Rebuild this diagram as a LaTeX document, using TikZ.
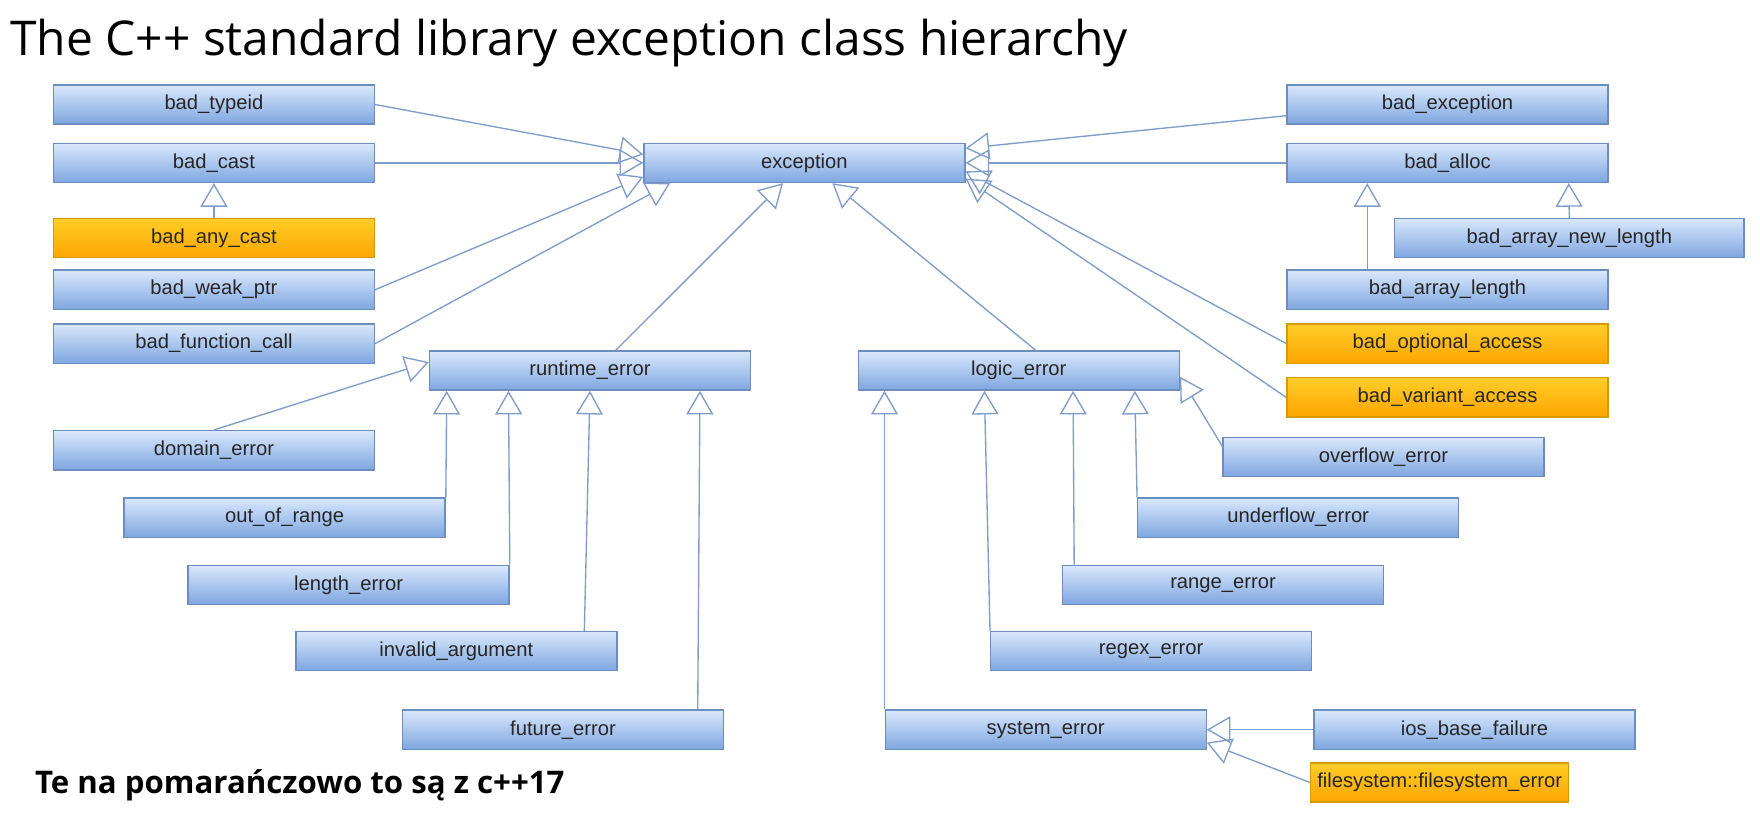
\documentclass[tikz,border=0pt]{standalone}
\usepackage{fontspec}
\setmainfont{Liberation Sans}
\newfontfamily\titlefont{Open Sans}
\usetikzlibrary{arrows.meta}
\definecolor{blueT}{HTML}{DAE8FC}
\definecolor{blueB}{HTML}{7EA6E0}
\definecolor{blueLine}{HTML}{6C8EBF}
\definecolor{orangeT}{HTML}{FFCD28}
\definecolor{orangeB}{HTML}{FFA500}
\definecolor{orangeLine}{HTML}{D79B00}
\definecolor{edgeCol}{HTML}{7F9CCB}
\definecolor{labelCol}{HTML}{262626}
\begin{document}
\begin{tikzpicture}[x=1pt,y=-1pt,
  cls/.style={draw=blueLine, top color=blueT, bottom color=blueB, line width=1.2pt,
    minimum height=35pt, minimum width=286pt, inner sep=0pt, anchor=north west,
    font=\fontsize{18}{21}\selectfont, text=labelCol},
  newcls/.style={cls, draw=orangeLine, top color=orangeT, bottom color=orangeB},
  inh/.style={draw=edgeCol, line width=1.2pt, -{Triangle[open, length=21pt, width=24pt]}}]
\useasboundingbox[fill=white] (0,0) rectangle (1568,726);

% title and note
\node[anchor=base west, inner sep=0pt, font=\titlefont\fontsize{42.7}{48}\selectfont] (title) at (9,49) {The C++ standard library exception class hierarchy};
\node[anchor=base west, inner sep=0pt, font=\titlefont\bfseries\fontsize{27.8}{32}\selectfont] (note) at (31,707) {Te na pomarańczowo to są z c++17};

% left column
\node[cls] (typeid) at (47,75) {bad\_typeid};
\node[cls] (cast) at (47,127) {bad\_cast};
\node[newcls] (anycast) at (47,194) {bad\_any\_cast};
\node[cls] (weak) at (47,240) {bad\_weak\_ptr};
\node[cls] (func) at (47,288) {bad\_function\_call};

% centre
\node[cls] (exc) at (573,127) {exception};
\node[cls] (rt) at (382,312) {runtime\_error};
\node[cls] (logic) at (764,312) {logic\_error};

% runtime children
\node[cls] (domain) at (47,383) {domain\_error};
\node[cls] (oor) at (110,443) {out\_of\_range};
\node[cls] (len) at (167,503) {length\_error};
\node[cls] (inv) at (263,562) {invalid\_argument};
\node[cls] (fut) at (358,632) {future\_error};

% logic children
\node[cls] (over) at (1089,389) {overflow\_error};
\node[cls] (under) at (1013,443) {underflow\_error};
\node[cls] (range) at (946,503) {range\_error};
\node[cls] (regex) at (882,562) {regex\_error};
\node[cls] (sys) at (788,632) {system\_error};
\node[cls] (ios) at (1170,632) {ios\_base\_failure};
\node[newcls, minimum width=230pt] (fs) at (1167,679) {filesystem::filesystem\_error};

% right column
\node[cls] (badexc) at (1146,75) {bad\_exception};
\node[cls] (alloc) at (1146,127) {bad\_alloc};
\node[cls, minimum width=311pt] (newlen) at (1242,194) {bad\_array\_new\_length};
\node[cls] (arrlen) at (1146,240) {bad\_array\_length};
\node[newcls] (opt) at (1146,288) {bad\_optional\_access};
\node[newcls] (var) at (1146,336) {bad\_variant\_access};

% connectors to exception
\draw[inh] (typeid.east) -- ([yshift=7.5pt]exc.west);
\draw[inh] (cast.east) -- (exc.west);
\draw[inh] (weak.east) -- ([yshift=-12.5pt]exc.west);
\draw[inh] (func.east) -- ([xshift=24pt]exc.south west);
\draw[inh] ([yshift=-10pt]badexc.west) -- ([yshift=13pt]exc.east);
\draw[inh] (alloc.west) -- (exc.east);
\draw[inh] (opt.west) -- ([yshift=-7.5pt]exc.east);
\draw[inh] (var.west) -- ([yshift=-14pt]exc.east);
\draw[inh] ([xshift=23pt]rt.north) -- ([xshift=-19pt]exc.south);
\draw[inh] ([xshift=15pt]logic.north) -- ([xshift=25pt]exc.south);

% bad_cast, bad_alloc children
\draw[inh] (anycast.north) -- (cast.south);
\draw[inh] ([xshift=-71.5pt]arrlen.north) -- ([xshift=-71.5pt]alloc.south);
\draw[inh] (newlen.north) -- ([xshift=108pt]alloc.south);

% runtime_error children
\draw[inh] (domain.north) -- ([yshift=7.5pt]rt.west);
\draw[inh] (oor.north east) -- ([xshift=16pt]rt.south west);
\draw[inh] (len.north east) -- ([xshift=71pt]rt.south west);
\draw[inh] ([xshift=114pt]inv.north) -- (rt.south);
\draw[inh] ([xshift=120pt]fut.north) -- ([xshift=98pt]rt.south);

% logic_error children
\draw[inh] (sys.north west) -- ([xshift=24pt]logic.south west);
\draw[inh] (regex.north west) -- ([xshift=113pt]logic.south west);
\draw[inh] ([xshift=11pt]range.north west) -- ([xshift=192pt]logic.south west);
\draw[inh] (under.north west) -- ([xshift=247pt]logic.south west);
\draw[inh] ([yshift=9.5pt]over.west) -- ([yshift=-5.5pt]logic.east);

% system_error children
\draw[inh] (ios.west) -- (sys.east);
\draw[inh] (fs.west) -- ([yshift=-11.5pt]sys.east);
\end{tikzpicture}
\end{document}
